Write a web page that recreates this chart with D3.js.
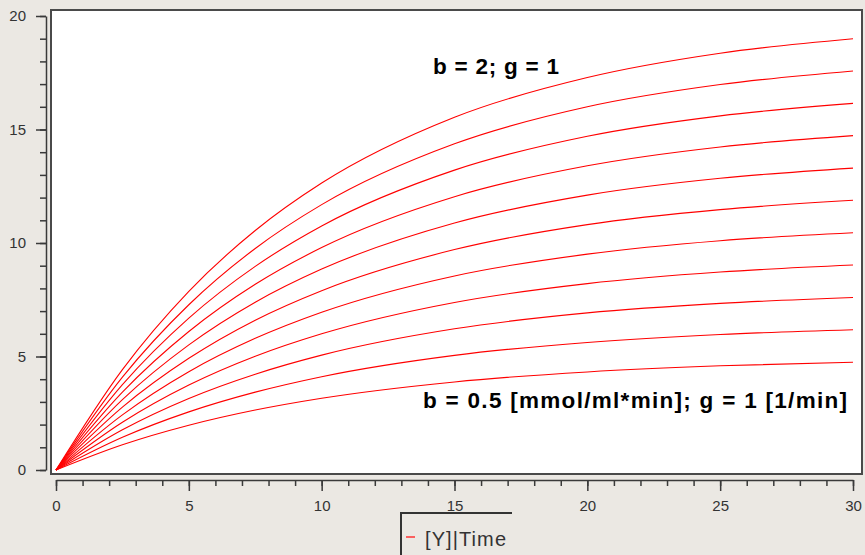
<html>
<head>
<meta charset="utf-8">
<script src="https://d3js.org/d3.v7.min.js"></script>
<style>
  * { margin: 0; padding: 0; }
  body { background: #ebe8e3; }
  svg { display: block; font-family: 'Liberation Sans', Arial, sans-serif; }
  .axis path, .axis line { stroke: #3a3a3a; stroke-width: 1.5; }
  .axis text { fill: #333; font-size: 15px; }
  .note { font-weight: bold; font-size: 22.5px; fill: #000; }
</style>
</head>
<body>
<svg id="chart" width="865" height="555"></svg>
<script>
// time points
var times = [0, 2.5, 5, 7.5, 10, 15, 20, 25, 30];

// one array per curve, bottom (b = 0.5) to top (b = 2)
var curve1  = [0, 1.11, 1.97, 2.64, 3.16, 3.88, 4.32, 4.59, 4.75];
var curve2  = [0, 1.44, 2.56, 3.43, 4.11, 5.05, 5.62, 5.97, 6.18];
var curve3  = [0, 1.77, 3.15, 4.22, 5.06, 6.22, 6.92, 7.34, 7.60];
var curve4  = [0, 2.10, 3.74, 5.01, 6.00, 7.38, 8.21, 8.72, 9.03];
var curve5  = [0, 2.43, 4.33, 5.80, 6.95, 8.55, 9.51, 10.10, 10.45];
var curve6  = [0, 2.77, 4.92, 6.60, 7.90, 9.71, 10.81, 11.47, 11.88];
var curve7  = [0, 3.10, 5.51, 7.39, 8.85, 10.88, 12.11, 12.85, 13.30];
var curve8  = [0, 3.43, 6.10, 8.18, 9.80, 12.04, 13.40, 14.23, 14.73];
var curve9  = [0, 3.76, 6.69, 8.97, 10.75, 13.21, 14.70, 15.60, 16.15];
var curve10 = [0, 4.09, 7.28, 9.76, 11.69, 14.37, 16.00, 16.98, 17.58];
var curve11 = [0, 4.42, 7.87, 10.55, 12.64, 15.54, 17.29, 18.36, 19.00];

var xMajor = [0, 5, 10, 15, 20, 25, 30];
var yMajor = [0, 5, 10, 15, 20];

var topNote = 'b = 2; g = 1';
var bottomNote = 'b = 0.5 [mmol/ml*min]; g = 1 [1/min]';
var legendLabel = '[Y]|Time';

var curves = [curve1, curve2, curve3, curve4, curve5, curve6,
              curve7, curve8, curve9, curve10, curve11];

var svg = d3.select('#chart');

svg.append('rect')
  .attr('width', 865).attr('height', 555)
  .attr('fill', '#ebe8e3');

var x = d3.scaleLinear().domain([0, 30]).range([56, 853]);
var y = d3.scaleLinear().domain([0, 20]).range([470, 16]);

// plot frame
svg.append('rect')
  .attr('x', 51).attr('y', 10)
  .attr('width', 811).attr('height', 464)
  .attr('fill', '#fff')
  .attr('stroke', '#4a4a4a')
  .attr('stroke-width', 2);

// y axis
svg.append('g')
  .attr('class', 'axis')
  .attr('transform', 'translate(46,0)')
  .call(d3.axisLeft(y).tickValues(yMajor).tickSize(10).tickSizeOuter(0).tickPadding(10));

svg.append('g')
  .attr('class', 'axis')
  .attr('transform', 'translate(46,0)')
  .call(d3.axisLeft(y).tickValues(d3.range(0, 21)).tickSize(6).tickSizeOuter(0).tickFormat(''))
  .select('.domain').remove();

// x axis
svg.append('g')
  .attr('class', 'axis')
  .attr('transform', 'translate(0,480)')
  .call(d3.axisBottom(x).tickValues(xMajor).tickSize(11).tickSizeOuter(0).tickPadding(9));

svg.append('g')
  .attr('class', 'axis')
  .attr('transform', 'translate(0,480)')
  .call(d3.axisBottom(x).tickValues(d3.range(0, 31)).tickSize(6).tickSizeOuter(0).tickFormat(''))
  .select('.domain').remove();

svg.selectAll('.axis text').attr('fill', '#333');

// curves
var line = d3.line()
  .x(function (d, i) { return x(times[i]); })
  .y(function (d) { return y(d); })
  .curve(d3.curveMonotoneX);

svg.append('g')
  .selectAll('path')
  .data(curves)
  .enter()
  .append('path')
  .attr('d', line)
  .attr('fill', 'none')
  .attr('stroke', '#ff0000')
  .attr('stroke-width', 1.1);

// annotations
svg.append('text')
  .attr('class', 'note')
  .attr('x', 433).attr('y', 74)
  .attr('textLength', 126)
  .attr('lengthAdjust', 'spacing')
  .text(topNote);

svg.append('text')
  .attr('class', 'note')
  .attr('x', 423).attr('y', 408)
  .attr('textLength', 424)
  .attr('lengthAdjust', 'spacing')
  .text(bottomNote);

// legend
svg.append('path')
  .attr('d', 'M401,556 L401,513 L512,513')
  .attr('fill', 'none')
  .attr('stroke', '#333')
  .attr('stroke-width', 2);

svg.append('line')
  .attr('x1', 406).attr('x2', 415)
  .attr('y1', 537).attr('y2', 537)
  .attr('stroke', '#ff3333')
  .attr('stroke-width', 1.5);

svg.append('text')
  .attr('x', 425).attr('y', 546)
  .attr('font-size', 20)
  .attr('fill', '#333')
  .attr('textLength', 81)
  .attr('lengthAdjust', 'spacing')
  .text(legendLabel);
</script>
</body>
</html>
